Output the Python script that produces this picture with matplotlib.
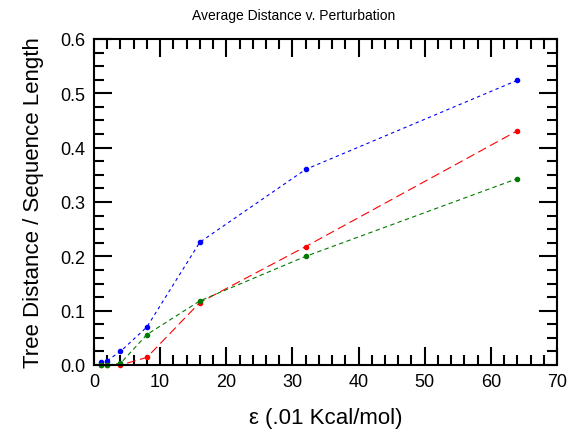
import matplotlib
matplotlib.use("Agg")
import matplotlib.pyplot as plt
from matplotlib.ticker import MultipleLocator

plt.rcParams["font.family"] = ["Liberation Sans", "DejaVu Sans"]

# perturbation size (x) and normalised tree distance for three runs
epsilon = [1, 2, 4, 8, 16, 32, 64]
dist_blue = [0.005, 0.008, 0.025, 0.070, 0.226, 0.360, 0.524]
dist_red = [0.0, 0.0, 0.0, 0.014, 0.115, 0.218, 0.431]
dist_green = [0.0, 0.0, 0.003, 0.056, 0.118, 0.200, 0.343]

title = "Average Distance v. Perturbation"
xlabel = "\u03b5 (.01 Kcal/mol)"
ylabel = "Tree Distance / Sequence Length"

fig = plt.figure(figsize=(5.75, 4.31), dpi=100)
ax = fig.add_axes([94 / 575, 65 / 431, 463 / 575, 326 / 431])

ax.plot(epsilon, dist_blue, color="#0000ff", linestyle=(0, (3, 3)), linewidth=0.8,
        marker="o", markersize=3, clip_on=False)
ax.plot(epsilon, dist_red, color="#ff0000", linestyle=(0, (8, 4)), linewidth=0.8,
        marker="o", markersize=3, clip_on=False)
ax.plot(epsilon, dist_green, color="#007a00", linestyle=(0, (4, 3)), linewidth=0.8,
        marker="o", markersize=3, clip_on=False)

ax.set_xlim(0, 70)
ax.set_ylim(0, 0.6)
ax.xaxis.set_major_locator(MultipleLocator(10))
ax.xaxis.set_minor_locator(MultipleLocator(2))
ax.yaxis.set_major_locator(MultipleLocator(0.1))
ax.yaxis.set_minor_locator(MultipleLocator(0.025))
ax.yaxis.set_major_formatter(lambda v, p: f"{v:.1f}")

ax.tick_params(which="both", direction="in", top=True, right=True, width=1.5,
               labelsize=13, pad=6)
ax.tick_params(which="major", length=13)
ax.tick_params(which="minor", length=7)
for s in ax.spines.values():
    s.set_linewidth(1.5)

fig.text(294 / 575, 1 - 16 / 431, title, fontsize=10, ha="center", va="center")
ax.set_xlabel(xlabel, fontsize=16, labelpad=12)
ax.set_ylabel(ylabel, fontsize=16, labelpad=12)

fig.savefig("out.png", dpi=100)
